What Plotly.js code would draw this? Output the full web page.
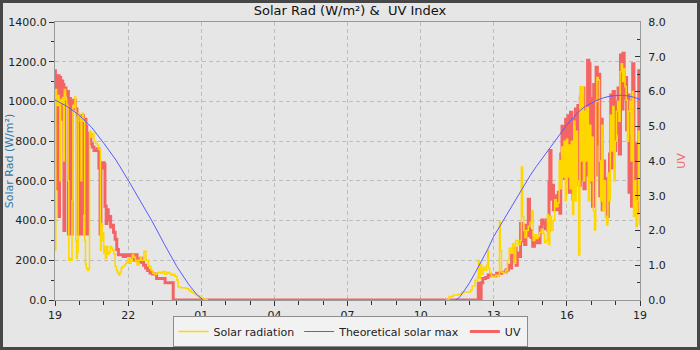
<!DOCTYPE html>
<html>
<head>
<meta charset="utf-8">
<script src="https://cdn.plot.ly/plotly-3.0.1.min.js"></script>
<style>
  html, body { margin: 0; padding: 0; width: 700px; height: 350px; background: #474747; overflow: hidden; }
  #chart { position: absolute; left: 3px; top: 3px; width: 694px; height: 344px; }
</style>
</head>
<body>
<div id="chart"></div>
<script>
// Time is expressed in minutes after 19:00 on the first day (0 .. 1440).
const xTickLabels = ["19", "22", "01", "04", "07", "10", "13", "16", "19"];

// Solar radiation (W/m²)
const solarMinutes = [
  0,1,2,4,6,8,10,12,14,16,19,21,23,26,29,32,34,37,40,42,44,47,49,51,53,55,57,60,62,64,66,68,70,73,75,77,80,83,85,88,92,96,100,104,107,110,
  112,114,116,118,120,122,124,127,130,133,136,139,142,145,148,151,154,157,160,163,166,170,174,177,180,184,187,190,194,198,202,206,210,213,219,224,230,236,240,245,250,255,260,265,270,275,280,285,290,295,300,303,310,318,325,330,335,340,345,350,355,360,365,370,375,376,
  962,970,980,993,1001,1013,1023,1027,1034,1040,1042,1044,1047,1050,1054,1058,1062,1065,1067,1070,1074,1080,1085,1090,1094,1096,1099,1104,1110,1114,1118,1122,1126,1130,1134,1140,1145,1148,1151,1154,1157,1161,1165,1169,1173,1177,1181,1185,1189,1193,1197,1201,1205,1209,1212,1215,1218,1222,1226,1230,1234,1238,1241,1244,1247,1250,1253,1256,1259,1262,1265,1268,1271,1274,1277,1280,1283,1286,1289,1292,1295,1298,1301,1304,1307,1310,1313,1316,1319,1322,1325,1328,1331,1334,1337,1340,1343,1346,1349,1352,1355,1358,1361,1364,1367,1370,1373,1376,1379,1382,1385,1388,1391,1394,1397,1400,1403,1406,1409,1412,1415,1418,1421,1424,1427,1430,1433,1436,1438,1440
];
const solarValues = [
  1000,250,1060,1000,980,1030,1000,600,1010,990,1020,700,1060,1010,980,600,200,210,200,500,980,970,1024,300,210,240,940,930,900,600,920,940,900,300,180,160,150,160,850,820,840,800,790,780,760,755,
  250,385,300,340,235,270,210,270,230,240,270,260,250,230,170,150,135,126,140,160,167,175,185,190,210,185,200,227,215,200,176,200,215,200,245,200,170,150,135,128,135,140,135,143,130,140,135,125,130,120,100,65,62,60,57,48,40,35,28,22,15,10,5,2,0,null,
  0,17,25,30,40,40,50,70,100,115,200,110,180,130,165,150,175,252,160,140,120,115,125,120,395,250,140,135,150,200,260,235,285,185,300,280,300,670,420,350,315,350,370,390,450,300,330,310,320,340,355,335,290,300,430,280,420,350,400,505,470,490,700,560,770,620,800,500,810,620,780,560,800,430,900,500,850,600,227,1074,700,1074,600,950,700,970,500,880,600,820,450,352,1000,1120,1108,700,500,880,450,600,420,378,640,500,930,750,974,600,800,950,1000,900,1150,1190,1100,1166,1074,1007,800,950,1000,700,1050,420,600,370,500,850,380,820
];

// Theoretical solar max (W/m²)
const maxMinutes = [
  0,30,60,90,120,150,180,210,240,270,300,330,350,365,366,
  984,985,995,1005,1020,1035,1050,1065,1080,1095,1110,1125,1140,1155,1170,1185,1200,1215,1230,1245,1260,1275,1290,1305,1320,1335,1350,1365,1380,1395,1410,1425,1440
];
const maxValues = [
  1007,975,930,870,790,705,604,500,393,278,168,76,25,0,null,
  null,0,12,40,85,140,195,255,320,372,425,478,530,580,628,673,716,758,800,842,882,918,950,975,993,1007,1018,1026,1030,1031,1028,1021,1010
];

// UV index
const uvMinutes = [
  0,1,2,4,6,7,10,11,14,16,19,22,24,27,30,33,35,38,42,46,50,54,57,61,64,66,70,72,76,78,80,84,88,92,96,100,104,108,111,113,117,121,123,126,128,131,134,137,140,144,148,152,156,162,168,174,180,186,190,194,198,202,206,210,214,218,223,228,234,240,250,271,291,
  1042,1046,1049,1053,1060,1066,1075,1087,1100,1110,1116,1120,1124,1128,1132,1135,1138,1142,1146,1149,1152,1156,1159,1163,1165,1168,1172,1176,1180,1185,1190,1194,1198,1202,1206,1210,1213,1216,1218,1221,1224,1227,1231,1235,1239,1243,1245,1248,1251,1254,1257,1260,1263,1266,1269,1272,1275,1278,1281,1284,1287,1290,1293,1296,1299,1302,1305,1308,1311,1314,1317,1320,1323,1326,1329,1332,1335,1338,1341,1344,1347,1350,1353,1356,1359,1362,1365,1368,1371,1374,1377,1380,1383,1386,1389,1392,1395,1398,1401,1404,1407,1410,1413,1416,1419,1422,1425,1428,1431,1434,1437,1440
];
const uvValues = [
  6.6,4.4,6.35,6.4,3.2,6.45,2.4,6.4,5.2,6.3,6.2,2.0,6.1,5.9,6.0,1.9,5.8,1.9,5.7,5.75,5.5,5.3,1.9,5.3,1.9,5.3,2.5,5.2,5.0,1.9,4.8,4.75,4.5,4.4,4.3,4.3,4.35,3.8,1.9,3.8,3.95,3.9,2.7,2.2,2.6,2.3,2.4,2.1,2.15,1.95,1.75,1.45,1.3,1.3,1.25,1.3,1.28,1.3,1.22,1.15,1.3,1.15,1.1,1.2,1.08,1.0,0.92,0.85,0.78,0.75,0.62,0.5,0,
  0.48,0,0.5,0.62,0.65,0.72,0.7,0.77,0.8,0.86,1.0,0.92,1.34,1.1,1.5,1.0,1.35,1.25,2.2,1.7,2.0,1.6,2.15,1.85,2.9,2.0,1.8,1.55,1.65,1.75,1.65,2.1,2.3,2.2,2.05,2.3,2.0,3.4,4.3,2.9,3.3,2.6,3.0,2.6,3.1,2.5,4.2,5.0,4.9,3.5,5.2,4.6,5.3,3.1,5.4,4.6,2.9,5.2,5.5,4.0,5.6,3.3,5.85,3.5,6.1,3.2,4.9,3.6,6.9,6.8,3.4,5.8,2.7,6.2,3.6,6.7,4.5,6.5,3.0,5.2,2.6,4.0,2.8,3.5,2.4,2.9,4.2,5.9,3.8,6.0,4.3,5.7,4.8,6.1,4.2,7.05,5.5,7.1,5.8,6.4,4.9,5.9,3.1,4.7,2.7,6.8,3.2,4.5,2.5,3.5,6.6,6.6
];

function toTime(m) {
  const base = Date.UTC(2024, 5, 10, 19, 0);
  const d = new Date(base + m * 60000);
  const p = n => String(n).padStart(2, "0");
  return d.getUTCFullYear() + "-" + p(d.getUTCMonth() + 1) + "-" + p(d.getUTCDate()) +
         " " + p(d.getUTCHours()) + ":" + p(d.getUTCMinutes());
}

const tickVals = xTickLabels.map((_, i) => toTime(i * 180));

const traces = [
  {
    name: "UV", x: uvMinutes.map(toTime), y: uvValues, yaxis: "y",
    type: "scatter", mode: "lines", line: { color: "#f46464", width: 3, shape: "hv" },
    legendrank: 3, hoverinfo: "skip"
  },
  {
    name: "Solar radiation", x: solarMinutes.map(toTime), y: solarValues, yaxis: "y2",
    type: "scatter", mode: "lines", line: { color: "#ffd700", width: 1.5, shape: "hv" },
    connectgaps: false, legendrank: 1, hoverinfo: "skip"
  },
  {
    name: "Theoretical solar max", x: maxMinutes.map(toTime), y: maxValues, yaxis: "y2",
    type: "scatter", mode: "lines", line: { color: "#5a5aff", width: 1, shape: "linear" },
    connectgaps: false, legendrank: 2, hoverinfo: "skip"
  }
];

const gridColor = "#bdbdbd";
const layout = {
  width: 694, height: 344,
  paper_bgcolor: "#e6e6e6", plot_bgcolor: "#e6e6e6",
  font: { family: "DejaVu Sans", size: 11, color: "#222" },
  margin: { l: 52, r: 57, t: 19, b: 47, pad: 0 },
  title: {
    text: "Solar Rad (W/m²) &\u00a0 UV Index",
    font: { family: "DejaVu Sans", size: 13, color: "#111" },
    x: 0.5, xref: "container", xanchor: "center",
    y: 0.977, yref: "container", yanchor: "middle"
  },
  xaxis: {
    type: "date", range: [toTime(0), toTime(1440)],
    tickmode: "array", tickvals: tickVals, ticktext: xTickLabels,
    ticks: "outside", ticklen: 5, tickcolor: "#333",
    showline: true, linecolor: "#999", mirror: true,
    showgrid: true, gridcolor: gridColor, griddash: "4px,3px", gridwidth: 1,
    zeroline: false,
    minor: { dtick: 3600000, tick0: toTime(0), ticks: "outside", ticklen: 4, tickcolor: "#333", showgrid: false },
    tickfont: { size: 11, color: "#222" }
  },
  yaxis: {
    side: "right", range: [0, 8], dtick: 1, tickformat: ".1f",
    ticks: "inside", ticklen: 5, tickcolor: "#333", ticklabelstandoff: 5,
    showgrid: false, zeroline: false,
    showline: true, linecolor: "#999",
    minor: { dtick: 0.5, ticks: "inside", ticklen: 3, tickcolor: "#333", showgrid: false },
    title: { text: "UV", font: { size: 11, color: "#f06464" }, standoff: 12 },
    tickfont: { size: 11, color: "#222" }
  },
  yaxis2: {
    overlaying: "y", side: "left", range: [0, 1400], dtick: 200, tickformat: ".1f",
    ticks: "outside", ticklen: 5, tickcolor: "#333",
    showgrid: true, gridcolor: gridColor, griddash: "4px,3px", gridwidth: 1,
    zeroline: false, showline: true, linecolor: "#999",
    minor: { dtick: 100, ticks: "outside", ticklen: 3, tickcolor: "#333", showgrid: false },
    title: { text: "Solar Rad (W/m²)", font: { size: 11, color: "#2f78a8" }, standoff: 0 },
    tickfont: { size: 11, color: "#222" }
  },
  legend: {
    orientation: "h", x: 0.5, xanchor: "center", xref: "container",
    y: 0, yanchor: "bottom", yref: "container",
    bgcolor: "#f2f2f2", bordercolor: "#8c8c8c", borderwidth: 1,
    font: { size: 11, color: "#222" }, itemwidth: 30
  },
  showlegend: true
};

Plotly.newPlot("chart", traces, layout, { staticPlot: true, displayModeBar: false });
</script>
</body>
</html>
